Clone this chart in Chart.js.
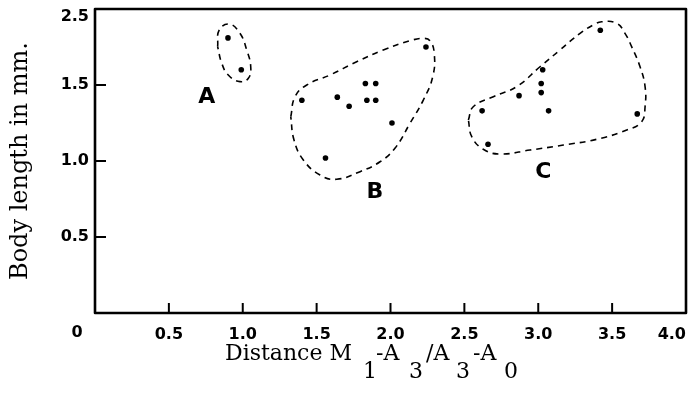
<!DOCTYPE html>
<html>
<head>
<meta charset="utf-8">
<script src="https://cdn.jsdelivr.net/npm/chart.js@4.4.1/dist/chart.umd.min.js"></script>
<style>
  html, body { margin: 0; padding: 0; background: #fff; }
  #wrap { width: 693px; height: 413px; position: relative; }
</style>
</head>
<body>
<div id="wrap"><canvas id="chart"></canvas></div>
<script>
// Measured specimens: distance ratio M1-A3 / A3-A0 (x) against body length in mm (y)
const groupA = [
  { x: 0.90, y: 1.81 }, { x: 0.99, y: 1.60 }
];
const groupB = [
  { x: 2.24, y: 1.75 }, { x: 1.83, y: 1.51 }, { x: 1.90, y: 1.51 },
  { x: 1.40, y: 1.40 }, { x: 1.64, y: 1.42 }, { x: 1.72, y: 1.36 },
  { x: 1.84, y: 1.40 }, { x: 1.90, y: 1.40 }, { x: 2.01, y: 1.25 },
  { x: 1.56, y: 1.02 }
];
const groupC = [
  { x: 3.42, y: 1.86 }, { x: 3.03, y: 1.60 }, { x: 3.02, y: 1.51 },
  { x: 3.02, y: 1.45 }, { x: 2.87, y: 1.43 }, { x: 2.62, y: 1.33 },
  { x: 3.07, y: 1.33 }, { x: 3.67, y: 1.31 }, { x: 2.66, y: 1.11 }
];

// Hand-drawn dashed envelopes around each group (closed loops)
const outlineA = [
  { x: 0.830, y: 1.752 }, { x: 0.841, y: 1.862 }, { x: 0.909, y: 1.901 },
  { x: 0.981, y: 1.840 }, { x: 1.027, y: 1.730 }, { x: 1.054, y: 1.620 },
  { x: 1.038, y: 1.544 }, { x: 0.981, y: 1.522 }, { x: 0.902, y: 1.566 },
  { x: 0.858, y: 1.643 }, { x: 0.830, y: 1.752 }
];
const outlineB = [
  { x: 1.325, y: 1.291 }, { x: 1.354, y: 1.423 }, { x: 1.433, y: 1.500 },
  { x: 1.591, y: 1.566 }, { x: 1.771, y: 1.653 }, { x: 1.951, y: 1.730 },
  { x: 2.132, y: 1.791 }, { x: 2.222, y: 1.807 }, { x: 2.267, y: 1.791 },
  { x: 2.296, y: 1.709 }, { x: 2.286, y: 1.555 }, { x: 2.222, y: 1.401 },
  { x: 2.132, y: 1.248 }, { x: 2.030, y: 1.084 }, { x: 1.929, y: 0.995 },
  { x: 1.794, y: 0.930 }, { x: 1.636, y: 0.880 }, { x: 1.523, y: 0.908 },
  { x: 1.410, y: 1.007 }, { x: 1.347, y: 1.138 }, { x: 1.325, y: 1.291 }
];
const outlineC = [
  { x: 2.527, y: 1.270 }, { x: 2.560, y: 1.357 }, { x: 2.696, y: 1.423 },
  { x: 2.854, y: 1.489 }, { x: 3.012, y: 1.620 }, { x: 3.147, y: 1.730 },
  { x: 3.283, y: 1.840 }, { x: 3.373, y: 1.895 }, { x: 3.429, y: 1.916 },
  { x: 3.531, y: 1.906 }, { x: 3.587, y: 1.840 }, { x: 3.632, y: 1.752 },
  { x: 3.689, y: 1.620 }, { x: 3.723, y: 1.489 }, { x: 3.723, y: 1.357 },
  { x: 3.700, y: 1.259 }, { x: 3.599, y: 1.204 }, { x: 3.396, y: 1.143 },
  { x: 3.170, y: 1.105 }, { x: 2.944, y: 1.072 }, { x: 2.741, y: 1.046 },
  { x: 2.628, y: 1.077 }, { x: 2.550, y: 1.160 }, { x: 2.527, y: 1.270 }
];

// Axis tick labels, one per 0.5 step
const xTickLabels = ['0', '0.5', '1.0', '1.5', '2.0', '2.5', '3.0', '3.5', '4.0'];
const yTickLabels = ['', '0.5', '1.0', '1.5', '2.5'];

// Group letters and the data point each is anchored on
const groupNames = ['A', 'B', 'C'];
const groupNameAnchors = [
  { x: 0.756, y: 1.421 }, { x: 1.895, y: 0.791 }, { x: 3.034, y: 0.923 }
];

const INK = '#000';
const tickFont = { family: 'DejaVu Sans', size: 16, weight: 'bold' };
const serif = 'DejaVu Serif';

function pointSet(data) {
  return {
    data, showLine: false, pointRadius: 2.8, pointHoverRadius: 2.8,
    pointBackgroundColor: INK, pointBorderWidth: 0, order: 1
  };
}
function outlineSet(data) {
  return {
    data, showLine: true, fill: false, tension: 0.45,
    borderColor: INK, borderWidth: 1.6, borderDash: [6, 5],
    pointRadius: 0, pointHoverRadius: 0, order: 2
  };
}

const decorations = {
  id: 'decorations',
  afterDraw(chart) {
    const { ctx, chartArea: a, scales: { x, y } } = chart;
    ctx.save();
    ctx.strokeStyle = INK;
    ctx.fillStyle = INK;

    // plot frame
    ctx.lineWidth = 2.6;
    ctx.lineJoin = 'round';
    ctx.strokeRect(a.left, a.top, a.right - a.left, a.bottom - a.top);

    // inward tick marks
    ctx.lineWidth = 2;
    x.ticks.forEach(t => {
      if (t.value <= x.min || t.value >= x.max) return;
      const px = x.getPixelForValue(t.value);
      ctx.beginPath(); ctx.moveTo(px, a.bottom); ctx.lineTo(px, a.bottom - 10); ctx.stroke();
    });
    y.ticks.forEach(t => {
      if (t.value <= y.min || t.value >= y.max) return;
      const py = y.getPixelForValue(t.value);
      ctx.beginPath(); ctx.moveTo(a.left, py); ctx.lineTo(a.left + 11, py); ctx.stroke();
    });

    // corner labels: shared origin set off to the left, top value dropped below the frame line
    ctx.font = `bold ${tickFont.size}px "${tickFont.family}"`;
    ctx.textAlign = 'center';
    ctx.textBaseline = 'middle';
    ctx.fillText(xTickLabels[0], x.getPixelForValue(0) - 18, a.bottom + 20);
    ctx.textAlign = 'right';
    const topIdx = yTickLabels.length - 1;
    ctx.fillText(yTickLabels[topIdx], a.left - 6, y.getPixelForValue(y.max) + 8);

    // group letters
    ctx.textAlign = 'center';
    ctx.font = 'bold 22px "DejaVu Sans"';
    groupNames.forEach((name, i) => {
      const p = groupNameAnchors[i];
      ctx.fillText(name, x.getPixelForValue(p.x), y.getPixelForValue(p.y));
    });

    // x axis title with lowered subscripts (offsets from the start of the title)
    const pieces = [
      { t: 'Distance M', sub: false, at: 0 },
      { t: '1', sub: true, at: 138 },
      { t: '-A', sub: false, at: 151 },
      { t: '3', sub: true, at: 184 },
      { t: '/A', sub: false, at: 201 },
      { t: '3', sub: true, at: 231 },
      { t: '-A', sub: false, at: 248 },
      { t: '0', sub: true, at: 279 }
    ];
    ctx.font = `22px "${serif}"`;
    ctx.textAlign = 'left';
    ctx.textBaseline = 'alphabetic';
    const x0 = a.left + 130;
    const base = a.bottom + 47;
    pieces.forEach(p => {
      ctx.fillText(p.t, x0 + p.at, p.sub ? base + 18 : base);
    });
    ctx.restore();
  }
};

new Chart(document.getElementById('chart'), {
  type: 'scatter',
  data: {
    datasets: [
      pointSet(groupA), pointSet(groupB), pointSet(groupC),
      outlineSet(outlineA), outlineSet(outlineB), outlineSet(outlineC)
    ]
  },
  options: {
    responsive: true,
    maintainAspectRatio: false,
    animation: false,
    events: [],
    layout: { padding: { top: 9, right: 7, left: 0, bottom: 0 } },
    plugins: { legend: { display: false }, tooltip: { enabled: false } },
    scales: {
      x: {
        type: 'linear', min: 0, max: 4,
        grid: { display: false, drawTicks: false },
        border: { display: false },
        ticks: {
          stepSize: 0.5, autoSkip: false, maxRotation: 0, align: 'inner',
          padding: 12, color: INK, font: tickFont,
          callback: (v, i) => (i === 0 ? '' : xTickLabels[i])
        },
        afterFit(scale) { scale.height = 100; scale.paddingLeft = 0; scale.paddingRight = 0; }
      },
      y: {
        type: 'linear', min: 0, max: 2,
        grid: { display: false, drawTicks: false },
        border: { display: false },
        ticks: {
          stepSize: 0.5, autoSkip: false, padding: 6, color: INK, font: tickFont,
          callback: (v, i) => (i === yTickLabels.length - 1 ? '' : yTickLabels[i])
        },
        title: {
          display: true, text: 'Body length in mm.', color: INK,
          font: { family: serif, size: 24 }, padding: { top: 6, bottom: 0 }
        },
        afterFit(scale) { scale.width = 95; scale.paddingTop = 0; scale.paddingBottom = 0; }
      }
    }
  },
  plugins: [decorations]
});
</script>
</body>
</html>
